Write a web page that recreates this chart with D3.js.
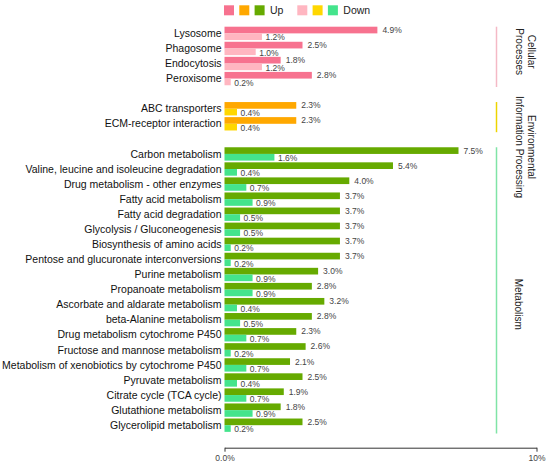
<!DOCTYPE html>
<html>
<head>
<meta charset="utf-8">
<script src="https://cdn.jsdelivr.net/npm/d3@7"></script>
<style>
    html, body { margin: 0; padding: 0; background: #fff; }
    svg { display: block; font-family: "Liberation Sans", Arial, sans-serif; }
</style>
</head>
<body>
<svg id="chart" width="550" height="466"></svg>
<script>

/* Data */
/* **** */
var groupNames = ['Cellular Processes', 'Environmental Information Processing', 'Metabolism'];

var cellularPathways = ['Lysosome', 'Phagosome', 'Endocytosis', 'Peroxisome'];
var cellularUp       = [4.9, 2.5, 1.8, 2.8];
var cellularDown     = [1.2, 1.0, 1.2, 0.2];

var envPathways = ['ABC transporters', 'ECM-receptor interaction'];
var envUp       = [2.3, 2.3];
var envDown     = [0.4, 0.4];

var metabolismPathways = [
    'Carbon metabolism',
    'Valine, leucine and isoleucine degradation',
    'Drug metabolism - other enzymes',
    'Fatty acid metabolism',
    'Fatty acid degradation',
    'Glycolysis / Gluconeogenesis',
    'Biosynthesis of amino acids',
    'Pentose and glucuronate interconversions',
    'Purine metabolism',
    'Propanoate metabolism',
    'Ascorbate and aldarate metabolism',
    'beta-Alanine metabolism',
    'Drug metabolism cytochrome P450',
    'Fructose and mannose metabolism',
    'Metabolism of xenobiotics by cytochrome P450',
    'Pyruvate metabolism',
    'Citrate cycle (TCA cycle)',
    'Glutathione metabolism',
    'Glycerolipid metabolism'
];
var metabolismUp   = [7.5, 5.4, 4.0, 3.7, 3.7, 3.7, 3.7, 3.7, 3.0, 2.8, 3.2, 2.8, 2.3, 2.6, 2.1, 2.5, 1.9, 1.8, 2.5];
var metabolismDown = [1.6, 0.4, 0.7, 0.9, 0.5, 0.5, 0.2, 0.2, 0.9, 0.9, 0.4, 0.5, 0.7, 0.2, 0.7, 0.4, 0.7, 0.9, 0.2];

var xTickValues = [0, 10];
var xTickLabels = ['0.0%', '10%'];


/* Styles */
/* ****** */
var upColors   = ['#F7728F', '#FFA800', '#66AA00'];
var downColors = ['#FFB6C1', '#FFD700', '#44E48C'];
var lineColors = ['#F4B9C6', '#EDD400', '#80E4A6'];

var labelLines = [['Cellular', 'Processes'], ['Environmental', 'Information Processing'], ['Metabolism']];


/* Build rows (with an empty row between groups) */
/* ********************************************* */
var groups = [
    { names: cellularPathways, up: cellularUp, down: cellularDown },
    { names: envPathways, up: envUp, down: envDown },
    { names: metabolismPathways, up: metabolismUp, down: metabolismDown }
];

var rows = [];
var rowKeys = [];
groups.forEach(function (g, gi) {
    if (gi > 0) {
        rowKeys.push('gap' + gi);
    }
    g.first = g.names[0];
    g.last = g.names[g.names.length - 1];
    g.names.forEach(function (name, i) {
        rows.push({ name: name, up: g.up[i], down: g.down[i], group: gi });
        rowKeys.push(name);
    });
});


/* Scales */
/* ****** */
var svg = d3.select('#chart');

var x = d3.scaleLinear()
    .domain([0, 10])
    .range([224.5, 536.5]);

var y = d3.scaleBand()
    .domain(rowKeys)
    .range([26.7, 26.7 + rowKeys.length * 15.07])
    .padding(0);

var barH = y.bandwidth() * 0.443;


/* Legend */
/* ****** */
var legend = svg.append('g').attr('class', 'legend');

var legendSets = [
    { colors: upColors, text: 'Up', x: 224 },
    { colors: downColors, text: 'Down', x: 297.3 }
];

legendSets.forEach(function (set) {
    var g = legend.append('g').attr('transform', 'translate(' + set.x + ',5.3)');
    g.selectAll('rect')
        .data(set.colors)
        .enter()
        .append('rect')
        .attr('x', function (d, i) { return i * 15.3; })
        .attr('y', 0)
        .attr('width', 10)
        .attr('height', 10)
        .attr('fill', function (d) { return d; });
    g.append('text')
        .attr('x', 46)
        .attr('y', 5)
        .attr('dy', '0.36em')
        .attr('font-size', '10.5px')
        .attr('fill', '#222')
        .text(set.text);
});


/* Bars */
/* **** */
var rowsGroup = svg.append('g').attr('class', 'rows');

var rowSel = rowsGroup
    .selectAll('g.row')
    .data(rows)
    .enter()
    .append('g')
    .attr('class', 'row')
    .attr('transform', function (d) { return 'translate(0,' + y(d.name) + ')'; });

rowSel.append('rect')
    .attr('x', x(0))
    .attr('y', 0)
    .attr('width', function (d) { return x(d.up) - x(0); })
    .attr('height', barH)
    .attr('fill', function (d) { return upColors[d.group]; });

rowSel.append('rect')
    .attr('x', x(0))
    .attr('y', barH)
    .attr('width', function (d) { return x(d.down) - x(0); })
    .attr('height', barH)
    .attr('fill', function (d) { return downColors[d.group]; });

// Category labels
rowSel.append('text')
    .attr('x', x(0) - 3)
    .attr('y', barH)
    .attr('dy', '0.35em')
    .attr('text-anchor', 'end')
    .attr('font-size', '10.5px')
    .attr('fill', '#111')
    .text(function (d) { return d.name; });

// Value labels
rowSel.append('text')
    .attr('x', function (d) { return x(d.up) + 5; })
    .attr('y', barH / 2)
    .attr('dy', '0.35em')
    .attr('font-size', '8.5px')
    .attr('fill', '#444')
    .text(function (d) { return d.up.toFixed(1) + '%'; });

rowSel.append('text')
    .attr('x', function (d) { return x(d.down) + 3.5; })
    .attr('y', barH * 1.5 + 0.8)
    .attr('dy', '0.35em')
    .attr('font-size', '8.5px')
    .attr('fill', '#444')
    .text(function (d) { return d.down.toFixed(1) + '%'; });


/* Group brackets and labels */
/* ************************* */
var side = svg.append('g').attr('class', 'groups');
var labelOffsets = [25, 45, 157];

groups.forEach(function (g, gi) {
    var y0 = y(g.first);
    var y1 = y(g.last) + y.bandwidth();

    side.append('line')
        .attr('x1', 496.5)
        .attr('x2', 496.5)
        .attr('y1', y0)
        .attr('y2', y1)
        .attr('stroke', lineColors[gi])
        .attr('stroke-width', 1.5);

    var lines = labelLines[gi];
    var t = side.append('text')
        .attr('transform', 'translate(' + (lines.length > 1 ? 525.5 : 518.3) + ',' + (y0 + labelOffsets[gi]) + ') rotate(90)')
        .attr('text-anchor', 'middle')
        .attr('font-size', '10px')
        .attr('fill', '#222');

    // rotated clockwise: first line sits furthest right
    lines.forEach(function (line, li) {
        t.append('tspan')
            .attr('x', 0)
            .attr('y', (li - (lines.length - 1) / 2) * 12.4)
            .attr('dy', '0.35em')
            .text(line);
    });
});


/* Axis */
/* **** */
var axis = svg.append('g')
    .attr('class', 'x-axis')
    .attr('transform', 'translate(0,447.7)')
    .call(d3.axisBottom(x)
        .tickValues(xTickValues)
        .tickFormat(function (d, i) { return xTickLabels[i]; })
        .tickSize(4)
        .tickSizeOuter(0));

axis.select('.domain').attr('stroke', '#333');
axis.selectAll('.tick line').attr('stroke', '#333');
axis.selectAll('.tick text')
    .attr('font-family', '"Liberation Sans", Arial, sans-serif')
    .attr('font-size', '8.5px')
    .attr('fill', '#444');

</script>
</body>
</html>
